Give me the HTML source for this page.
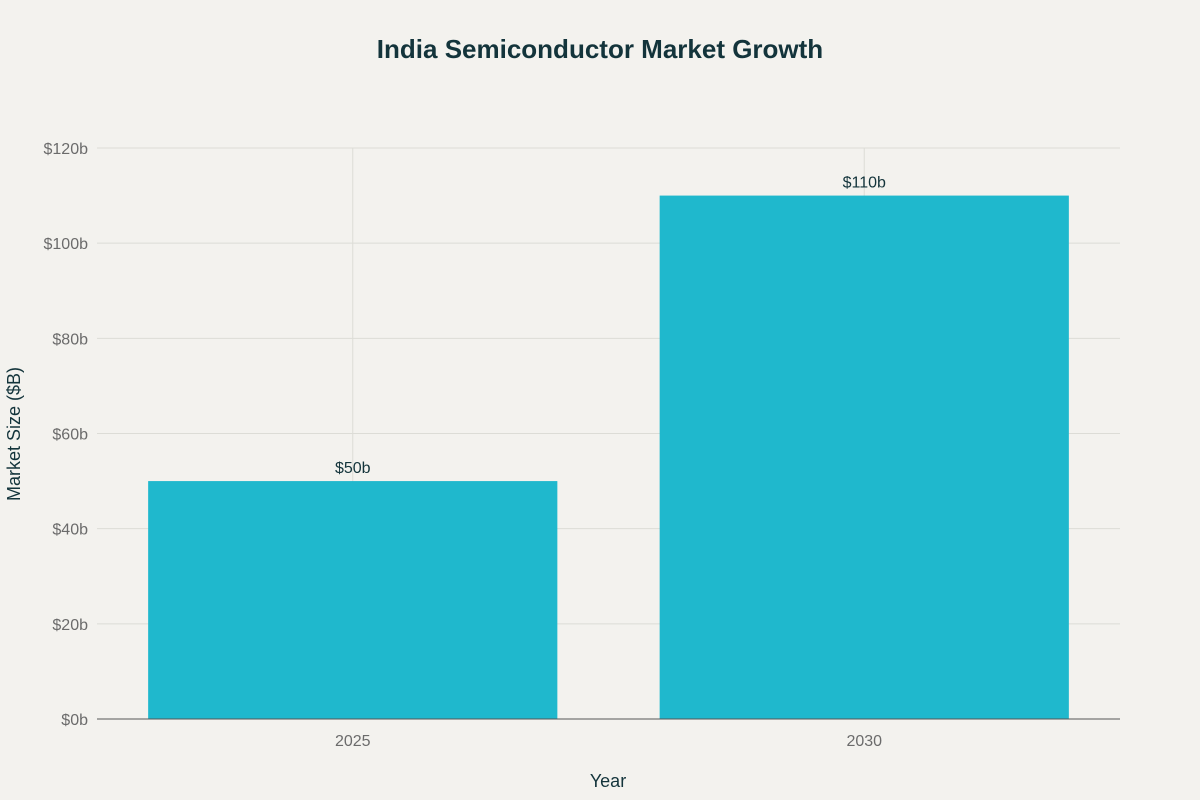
<!DOCTYPE html>
<html><head><meta charset="utf-8"><style>
body{margin:0;background:#f3f2ee;}
svg{display:block;font-family:"Liberation Sans",sans-serif;}
</style></head><body>
<svg id="chart" width="1200" height="800">
<rect width="1200" height="800" fill="#f3f2ee"/>
<text x="600" y="58" text-anchor="middle" font-size="26" font-weight="bold" fill="#13343b">India Semiconductor Market Growth</text>
<text x="608" y="787" text-anchor="middle" font-size="18" fill="#13343b">Year</text>
<text transform="translate(20,434) rotate(-90)" text-anchor="middle" font-size="18" fill="#13343b">Market Size ($B)</text>
<g id="grid"></g><g id="bars"></g><g id="labels"></g>
</svg>
<script>
const categories = ["2025", "2030"];
const values = [50, 110];
const valueLabels = ["$50b", "$110b"];
const yTicks = [0, 20, 40, 60, 80, 100, 120];
const yTickLabels = ["$0b", "$20b", "$40b", "$60b", "$80b", "$100b", "$120b"];
const NS = "http://www.w3.org/2000/svg";
const L = 97, R = 1120, T = 148, B = 719, yMax = 120;
const y = v => B - (v / yMax) * (B - T);
const band = (R - L) / categories.length;
const xc = i => L + band * (i + 0.5);
function mk(tag, attrs, parent, text) {
  const e = document.createElementNS(NS, tag);
  for (const k in attrs) e.setAttribute(k, attrs[k]);
  if (text !== undefined) e.textContent = text;
  document.getElementById(parent).appendChild(e);
  return e;
}
yTicks.forEach((t, i) => {
  if (t > 0) {
    const g = mk("line", {x1: L, x2: R, y1: y(t), y2: y(t), stroke: "#dcdcd6", "stroke-width": 1}, "grid");
    
    
  }
  const tl = mk("text", {x: L - 9, y: y(t) + 6, "text-anchor": "end", "font-size": 16, fill: "#6b6b6b"}, "labels", yTickLabels[i]);
  
  
});
categories.forEach((c, i) => {
  const vg = mk("line", {x1: xc(i), x2: xc(i), y1: T, y2: B, stroke: "#dcdcd6", "stroke-width": 1}, "grid");
  
  
  const w = band * 0.8;
  const b = mk("rect", {x: xc(i) - w / 2, y: y(values[i]), width: w, height: B - y(values[i]), fill: "#1fb8cd"}, "bars");
  
  
  const vl = mk("text", {x: xc(i), y: y(values[i]) - 8, "text-anchor": "middle", "font-size": 16, fill: "#13343b"}, "labels", valueLabels[i]);
  
  
  const xl = mk("text", {x: xc(i), y: 746, "text-anchor": "middle", "font-size": 16, fill: "#6b6b6b"}, "labels", c);
  
  
});
const ax = mk("line", {x1: L, x2: R, y1: B, y2: B, stroke: "#555", "stroke-width": 1}, "labels");


</script>
</body></html>
